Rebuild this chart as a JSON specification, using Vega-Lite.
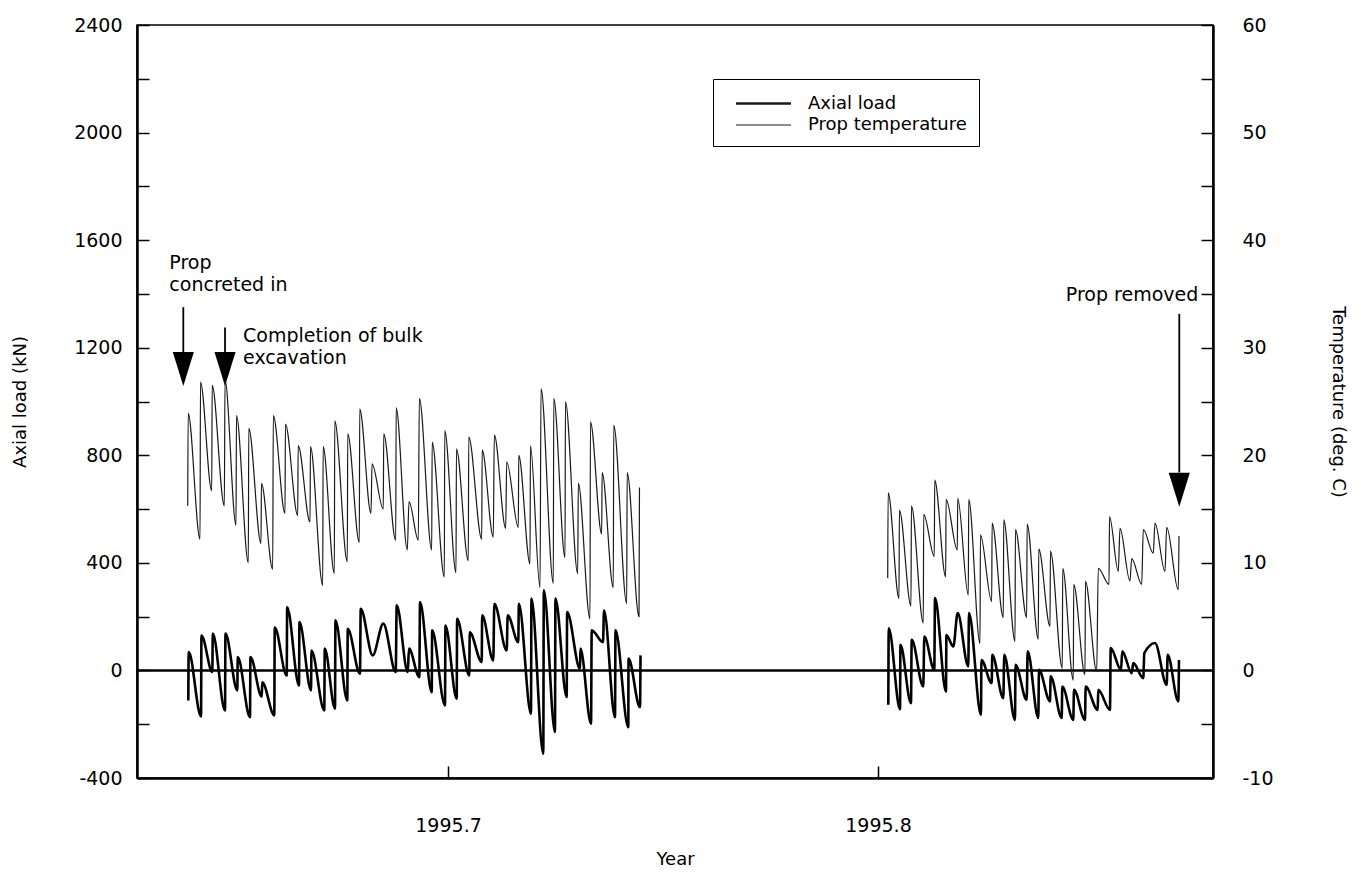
{
  "$schema": "https://vega.github.io/schema/vega-lite/v6.json",
  "width": 1076,
  "height": 753,
  "autosize": "none",
  "padding": {"left": 137, "top": 25, "right": 153, "bottom": 94},
  "background": "white",
  "config": {
    "font": "DejaVu Sans",
    "view": {"stroke": "black", "strokeWidth": 1.5},
    "axis": {
      "domainColor": "black", "domainWidth": 2.5,
      "tickColor": "black", "tickWidth": 1.5, "tickSize": -12,
      "labelColor": "black", "titleColor": "black",
      "labelFont": "DejaVu Sans", "titleFont": "DejaVu Sans",
      "labelFontSize": 19, "titleFontSize": 18, "titleFontWeight": "normal",
      "grid": false
    },
    "text": {"font": "DejaVu Sans"}
  },
  "datasets": {
    "readings": [
      {"year": 1995.63947, "series": "Prop temperature", "seg": 1, "value": 15.3},
      {"year": 1995.63957, "series": "Prop temperature", "seg": 1, "value": 23.9},
      {"year": 1995.64233, "series": "Prop temperature", "seg": 1, "value": 12.2},
      {"year": 1995.64243, "series": "Prop temperature", "seg": 1, "value": 26.8},
      {"year": 1995.64505, "series": "Prop temperature", "seg": 1, "value": 16.7},
      {"year": 1995.64515, "series": "Prop temperature", "seg": 1, "value": 26.5},
      {"year": 1995.64798, "series": "Prop temperature", "seg": 1, "value": 15.3},
      {"year": 1995.64814, "series": "Prop temperature", "seg": 1, "value": 27.0},
      {"year": 1995.65070, "series": "Prop temperature", "seg": 1, "value": 13.5},
      {"year": 1995.65080, "series": "Prop temperature", "seg": 1, "value": 23.7},
      {"year": 1995.65356, "series": "Prop temperature", "seg": 1, "value": 10.0},
      {"year": 1995.65366, "series": "Prop temperature", "seg": 1, "value": 22.5},
      {"year": 1995.65651, "series": "Prop temperature", "seg": 1, "value": 11.8},
      {"year": 1995.65661, "series": "Prop temperature", "seg": 1, "value": 17.4},
      {"year": 1995.65923, "series": "Prop temperature", "seg": 1, "value": 9.4},
      {"year": 1995.65937, "series": "Prop temperature", "seg": 1, "value": 23.7},
      {"year": 1995.66209, "series": "Prop temperature", "seg": 1, "value": 14.6},
      {"year": 1995.66219, "series": "Prop temperature", "seg": 1, "value": 22.9},
      {"year": 1995.66505, "series": "Prop temperature", "seg": 1, "value": 14.4},
      {"year": 1995.66515, "series": "Prop temperature", "seg": 1, "value": 20.9},
      {"year": 1995.66791, "series": "Prop temperature", "seg": 1, "value": 13.8},
      {"year": 1995.66801, "series": "Prop temperature", "seg": 1, "value": 20.8},
      {"year": 1995.67086, "series": "Prop temperature", "seg": 1, "value": 7.9},
      {"year": 1995.67096, "series": "Prop temperature", "seg": 1, "value": 20.8},
      {"year": 1995.67356, "series": "Prop temperature", "seg": 1, "value": 9.0},
      {"year": 1995.67366, "series": "Prop temperature", "seg": 1, "value": 23.2},
      {"year": 1995.67658, "series": "Prop temperature", "seg": 1, "value": 10.1},
      {"year": 1995.67668, "series": "Prop temperature", "seg": 1, "value": 22.0},
      {"year": 1995.67937, "series": "Prop temperature", "seg": 1, "value": 11.9},
      {"year": 1995.67947, "series": "Prop temperature", "seg": 1, "value": 24.3},
      {"year": 1995.68209, "series": "Prop temperature", "seg": 1, "value": 14.6},
      {"year": 1995.68233, "series": "Prop temperature", "seg": 1, "value": 19.2},
      {"year": 1995.68495, "series": "Prop temperature", "seg": 1, "value": 15.0},
      {"year": 1995.68505, "series": "Prop temperature", "seg": 1, "value": 22.0},
      {"year": 1995.68784, "series": "Prop temperature", "seg": 1, "value": 12.1},
      {"year": 1995.68794, "series": "Prop temperature", "seg": 1, "value": 24.4},
      {"year": 1995.69053, "series": "Prop temperature", "seg": 1, "value": 11.2},
      {"year": 1995.69093, "series": "Prop temperature", "seg": 1, "value": 15.7},
      {"year": 1995.69309, "series": "Prop temperature", "seg": 1, "value": 12.1},
      {"year": 1995.69333, "series": "Prop temperature", "seg": 1, "value": 25.3},
      {"year": 1995.69621, "series": "Prop temperature", "seg": 1, "value": 11.2},
      {"year": 1995.69631, "series": "Prop temperature", "seg": 1, "value": 21.2},
      {"year": 1995.69914, "series": "Prop temperature", "seg": 1, "value": 8.7},
      {"year": 1995.69924, "series": "Prop temperature", "seg": 1, "value": 22.3},
      {"year": 1995.70186, "series": "Prop temperature", "seg": 1, "value": 9.1},
      {"year": 1995.70196, "series": "Prop temperature", "seg": 1, "value": 20.6},
      {"year": 1995.70472, "series": "Prop temperature", "seg": 1, "value": 10.2},
      {"year": 1995.70482, "series": "Prop temperature", "seg": 1, "value": 21.7},
      {"year": 1995.70784, "series": "Prop temperature", "seg": 1, "value": 12.2},
      {"year": 1995.70794, "series": "Prop temperature", "seg": 1, "value": 20.5},
      {"year": 1995.71053, "series": "Prop temperature", "seg": 1, "value": 12.4},
      {"year": 1995.71077, "series": "Prop temperature", "seg": 1, "value": 21.9},
      {"year": 1995.71342, "series": "Prop temperature", "seg": 1, "value": 13.2},
      {"year": 1995.71365, "series": "Prop temperature", "seg": 1, "value": 19.4},
      {"year": 1995.71635, "series": "Prop temperature", "seg": 1, "value": 13.3},
      {"year": 1995.71645, "series": "Prop temperature", "seg": 1, "value": 20.0},
      {"year": 1995.71907, "series": "Prop temperature", "seg": 1, "value": 9.9},
      {"year": 1995.71917, "series": "Prop temperature", "seg": 1, "value": 20.9},
      {"year": 1995.72140, "series": "Prop temperature", "seg": 1, "value": 7.7},
      {"year": 1995.72163, "series": "Prop temperature", "seg": 1, "value": 26.2},
      {"year": 1995.72449, "series": "Prop temperature", "seg": 1, "value": 8.1},
      {"year": 1995.72459, "series": "Prop temperature", "seg": 1, "value": 25.3},
      {"year": 1995.72721, "series": "Prop temperature", "seg": 1, "value": 10.5},
      {"year": 1995.72731, "series": "Prop temperature", "seg": 1, "value": 25.0},
      {"year": 1995.73016, "series": "Prop temperature", "seg": 1, "value": 9.0},
      {"year": 1995.73030, "series": "Prop temperature", "seg": 1, "value": 17.4},
      {"year": 1995.73302, "series": "Prop temperature", "seg": 1, "value": 4.8},
      {"year": 1995.73312, "series": "Prop temperature", "seg": 1, "value": 23.1},
      {"year": 1995.73574, "series": "Prop temperature", "seg": 1, "value": 12.7},
      {"year": 1995.73584, "series": "Prop temperature", "seg": 1, "value": 18.4},
      {"year": 1995.73844, "series": "Prop temperature", "seg": 1, "value": 7.7},
      {"year": 1995.73854, "series": "Prop temperature", "seg": 1, "value": 22.8},
      {"year": 1995.74156, "series": "Prop temperature", "seg": 1, "value": 6.2},
      {"year": 1995.74166, "series": "Prop temperature", "seg": 1, "value": 18.4},
      {"year": 1995.74442, "series": "Prop temperature", "seg": 1, "value": 5.0},
      {"year": 1995.74453, "series": "Prop temperature", "seg": 1, "value": 17.0},
      {"year": 1995.80226, "series": "Prop temperature", "seg": 2, "value": 8.6},
      {"year": 1995.80236, "series": "Prop temperature", "seg": 2, "value": 16.5},
      {"year": 1995.80488, "series": "Prop temperature", "seg": 2, "value": 6.7},
      {"year": 1995.80498, "series": "Prop temperature", "seg": 2, "value": 14.9},
      {"year": 1995.80767, "series": "Prop temperature", "seg": 2, "value": 6.0},
      {"year": 1995.80777, "series": "Prop temperature", "seg": 2, "value": 15.3},
      {"year": 1995.81053, "series": "Prop temperature", "seg": 2, "value": 4.4},
      {"year": 1995.81063, "series": "Prop temperature", "seg": 2, "value": 14.5},
      {"year": 1995.81309, "series": "Prop temperature", "seg": 2, "value": 10.6},
      {"year": 1995.81319, "series": "Prop temperature", "seg": 2, "value": 17.7},
      {"year": 1995.81574, "series": "Prop temperature", "seg": 2, "value": 8.7},
      {"year": 1995.81584, "series": "Prop temperature", "seg": 2, "value": 15.9},
      {"year": 1995.81844, "series": "Prop temperature", "seg": 2, "value": 11.2},
      {"year": 1995.81854, "series": "Prop temperature", "seg": 2, "value": 16.0},
      {"year": 1995.82100, "series": "Prop temperature", "seg": 2, "value": 7.0},
      {"year": 1995.82110, "series": "Prop temperature", "seg": 2, "value": 15.9},
      {"year": 1995.82372, "series": "Prop temperature", "seg": 2, "value": 2.5},
      {"year": 1995.82382, "series": "Prop temperature", "seg": 2, "value": 12.6},
      {"year": 1995.82644, "series": "Prop temperature", "seg": 2, "value": 6.4},
      {"year": 1995.82654, "series": "Prop temperature", "seg": 2, "value": 13.7},
      {"year": 1995.82914, "series": "Prop temperature", "seg": 2, "value": 4.9},
      {"year": 1995.82924, "series": "Prop temperature", "seg": 2, "value": 14.0},
      {"year": 1995.83186, "series": "Prop temperature", "seg": 2, "value": 2.7},
      {"year": 1995.83196, "series": "Prop temperature", "seg": 2, "value": 13.1},
      {"year": 1995.83458, "series": "Prop temperature", "seg": 2, "value": 4.9},
      {"year": 1995.83468, "series": "Prop temperature", "seg": 2, "value": 13.6},
      {"year": 1995.83728, "series": "Prop temperature", "seg": 2, "value": 2.9},
      {"year": 1995.83738, "series": "Prop temperature", "seg": 2, "value": 11.3},
      {"year": 1995.84000, "series": "Prop temperature", "seg": 2, "value": 4.1},
      {"year": 1995.84010, "series": "Prop temperature", "seg": 2, "value": 11.1},
      {"year": 1995.84286, "series": "Prop temperature", "seg": 2, "value": 0.2},
      {"year": 1995.84296, "series": "Prop temperature", "seg": 2, "value": 9.5},
      {"year": 1995.84542, "series": "Prop temperature", "seg": 2, "value": -0.9},
      {"year": 1995.84552, "series": "Prop temperature", "seg": 2, "value": 8.0},
      {"year": 1995.84814, "series": "Prop temperature", "seg": 2, "value": -0.4},
      {"year": 1995.84824, "series": "Prop temperature", "seg": 2, "value": 8.3},
      {"year": 1995.85086, "series": "Prop temperature", "seg": 2, "value": -0.1},
      {"year": 1995.85123, "series": "Prop temperature", "seg": 2, "value": 9.5},
      {"year": 1995.85372, "series": "Prop temperature", "seg": 2, "value": 8.0},
      {"year": 1995.85384, "series": "Prop temperature", "seg": 2, "value": 14.3},
      {"year": 1995.85588, "series": "Prop temperature", "seg": 2, "value": 9.2},
      {"year": 1995.85628, "series": "Prop temperature", "seg": 2, "value": 13.2},
      {"year": 1995.85860, "series": "Prop temperature", "seg": 2, "value": 8.3},
      {"year": 1995.85900, "series": "Prop temperature", "seg": 2, "value": 10.4},
      {"year": 1995.86133, "series": "Prop temperature", "seg": 2, "value": 8.0},
      {"year": 1995.86170, "series": "Prop temperature", "seg": 2, "value": 13.1},
      {"year": 1995.86402, "series": "Prop temperature", "seg": 2, "value": 10.9},
      {"year": 1995.86442, "series": "Prop temperature", "seg": 2, "value": 13.7},
      {"year": 1995.86674, "series": "Prop temperature", "seg": 2, "value": 9.2},
      {"year": 1995.86714, "series": "Prop temperature", "seg": 2, "value": 13.3},
      {"year": 1995.86984, "series": "Prop temperature", "seg": 2, "value": 7.5},
      {"year": 1995.87000, "series": "Prop temperature", "seg": 2, "value": 12.5},
      {"year": 1995.63960, "series": "Axial load", "seg": 1, "value": -112},
      {"year": 1995.63970, "series": "Axial load", "seg": 1, "value": 68},
      {"year": 1995.64256, "series": "Axial load", "seg": 1, "value": -171},
      {"year": 1995.64266, "series": "Axial load", "seg": 1, "value": 130},
      {"year": 1995.64519, "series": "Axial load", "seg": 1, "value": -6},
      {"year": 1995.64529, "series": "Axial load", "seg": 1, "value": 137},
      {"year": 1995.64814, "series": "Axial load", "seg": 1, "value": -149},
      {"year": 1995.64824, "series": "Axial load", "seg": 1, "value": 137},
      {"year": 1995.65100, "series": "Axial load", "seg": 1, "value": -74},
      {"year": 1995.65110, "series": "Axial load", "seg": 1, "value": 50},
      {"year": 1995.65395, "series": "Axial load", "seg": 1, "value": -174},
      {"year": 1995.65405, "series": "Axial load", "seg": 1, "value": 50},
      {"year": 1995.65667, "series": "Axial load", "seg": 1, "value": -97},
      {"year": 1995.65681, "series": "Axial load", "seg": 1, "value": -44},
      {"year": 1995.65960, "series": "Axial load", "seg": 1, "value": -167},
      {"year": 1995.65970, "series": "Axial load", "seg": 1, "value": 159},
      {"year": 1995.66249, "series": "Axial load", "seg": 1, "value": -19},
      {"year": 1995.66259, "series": "Axial load", "seg": 1, "value": 235},
      {"year": 1995.66535, "series": "Axial load", "seg": 1, "value": -56},
      {"year": 1995.66545, "series": "Axial load", "seg": 1, "value": 180},
      {"year": 1995.66814, "series": "Axial load", "seg": 1, "value": -74},
      {"year": 1995.66824, "series": "Axial load", "seg": 1, "value": 74},
      {"year": 1995.67123, "series": "Axial load", "seg": 1, "value": -149},
      {"year": 1995.67133, "series": "Axial load", "seg": 1, "value": 81},
      {"year": 1995.67372, "series": "Axial load", "seg": 1, "value": -142},
      {"year": 1995.67382, "series": "Axial load", "seg": 1, "value": 186},
      {"year": 1995.67658, "series": "Axial load", "seg": 1, "value": -112},
      {"year": 1995.67668, "series": "Axial load", "seg": 1, "value": 155},
      {"year": 1995.67953, "series": "Axial load", "seg": 1, "value": -12},
      {"year": 1995.67970, "series": "Axial load", "seg": 1, "value": 229},
      {"year": 1995.68249, "series": "Axial load", "seg": 1, "value": 56},
      {"year": 1995.68495, "series": "Axial load", "seg": 1, "value": 174},
      {"year": 1995.68784, "series": "Axial load", "seg": 1, "value": -6},
      {"year": 1995.68807, "series": "Axial load", "seg": 1, "value": 242},
      {"year": 1995.69063, "series": "Axial load", "seg": 1, "value": -6},
      {"year": 1995.69093, "series": "Axial load", "seg": 1, "value": 81},
      {"year": 1995.69333, "series": "Axial load", "seg": 1, "value": -25},
      {"year": 1995.69349, "series": "Axial load", "seg": 1, "value": 254},
      {"year": 1995.69621, "series": "Axial load", "seg": 1, "value": -81},
      {"year": 1995.69631, "series": "Axial load", "seg": 1, "value": 149},
      {"year": 1995.69930, "series": "Axial load", "seg": 1, "value": -130},
      {"year": 1995.69940, "series": "Axial load", "seg": 1, "value": 167},
      {"year": 1995.70202, "series": "Axial load", "seg": 1, "value": -105},
      {"year": 1995.70212, "series": "Axial load", "seg": 1, "value": 192},
      {"year": 1995.70495, "series": "Axial load", "seg": 1, "value": -19},
      {"year": 1995.70505, "series": "Axial load", "seg": 1, "value": 142},
      {"year": 1995.70784, "series": "Axial load", "seg": 1, "value": 31},
      {"year": 1995.70794, "series": "Axial load", "seg": 1, "value": 205},
      {"year": 1995.71053, "series": "Axial load", "seg": 1, "value": 37},
      {"year": 1995.71077, "series": "Axial load", "seg": 1, "value": 248},
      {"year": 1995.71365, "series": "Axial load", "seg": 1, "value": 74},
      {"year": 1995.71388, "series": "Axial load", "seg": 1, "value": 205},
      {"year": 1995.71635, "series": "Axial load", "seg": 1, "value": 105},
      {"year": 1995.71647, "series": "Axial load", "seg": 1, "value": 248},
      {"year": 1995.71930, "series": "Axial load", "seg": 1, "value": -161},
      {"year": 1995.71940, "series": "Axial load", "seg": 1, "value": 267},
      {"year": 1995.72216, "series": "Axial load", "seg": 1, "value": -310},
      {"year": 1995.72228, "series": "Axial load", "seg": 1, "value": 298},
      {"year": 1995.72488, "series": "Axial load", "seg": 1, "value": -229},
      {"year": 1995.72498, "series": "Axial load", "seg": 1, "value": 267},
      {"year": 1995.72760, "series": "Axial load", "seg": 1, "value": -99},
      {"year": 1995.72770, "series": "Axial load", "seg": 1, "value": 217},
      {"year": 1995.73070, "series": "Axial load", "seg": 1, "value": 6},
      {"year": 1995.73080, "series": "Axial load", "seg": 1, "value": 81},
      {"year": 1995.73326, "series": "Axial load", "seg": 1, "value": -198},
      {"year": 1995.73342, "series": "Axial load", "seg": 1, "value": 149},
      {"year": 1995.73605, "series": "Axial load", "seg": 1, "value": 105},
      {"year": 1995.73628, "series": "Axial load", "seg": 1, "value": 223},
      {"year": 1995.73884, "series": "Axial load", "seg": 1, "value": -174},
      {"year": 1995.73895, "series": "Axial load", "seg": 1, "value": 149},
      {"year": 1995.74193, "series": "Axial load", "seg": 1, "value": -211},
      {"year": 1995.74198, "series": "Axial load", "seg": 1, "value": 44},
      {"year": 1995.74465, "series": "Axial load", "seg": 1, "value": -137},
      {"year": 1995.74477, "series": "Axial load", "seg": 1, "value": 56},
      {"year": 1995.80240, "series": "Axial load", "seg": 2, "value": -128},
      {"year": 1995.80250, "series": "Axial load", "seg": 2, "value": 157},
      {"year": 1995.80512, "series": "Axial load", "seg": 2, "value": -144},
      {"year": 1995.80522, "series": "Axial load", "seg": 2, "value": 95},
      {"year": 1995.80767, "series": "Axial load", "seg": 2, "value": -122},
      {"year": 1995.80784, "series": "Axial load", "seg": 2, "value": 114},
      {"year": 1995.81053, "series": "Axial load", "seg": 2, "value": -60},
      {"year": 1995.81077, "series": "Axial load", "seg": 2, "value": 126},
      {"year": 1995.81309, "series": "Axial load", "seg": 2, "value": 2},
      {"year": 1995.81326, "series": "Axial load", "seg": 2, "value": 269},
      {"year": 1995.81581, "series": "Axial load", "seg": 2, "value": -78},
      {"year": 1995.81591, "series": "Axial load", "seg": 2, "value": 132},
      {"year": 1995.81751, "series": "Axial load", "seg": 2, "value": 89},
      {"year": 1995.81853, "series": "Axial load", "seg": 2, "value": 213},
      {"year": 1995.82100, "series": "Axial load", "seg": 2, "value": 15},
      {"year": 1995.82116, "series": "Axial load", "seg": 2, "value": 213},
      {"year": 1995.82395, "series": "Axial load", "seg": 2, "value": -165},
      {"year": 1995.82405, "series": "Axial load", "seg": 2, "value": 39},
      {"year": 1995.82644, "series": "Axial load", "seg": 2, "value": -47},
      {"year": 1995.82658, "series": "Axial load", "seg": 2, "value": 58},
      {"year": 1995.82914, "series": "Axial load", "seg": 2, "value": -103},
      {"year": 1995.82937, "series": "Axial load", "seg": 2, "value": 58},
      {"year": 1995.83186, "series": "Axial load", "seg": 2, "value": -184},
      {"year": 1995.83198, "series": "Axial load", "seg": 2, "value": 21},
      {"year": 1995.83458, "series": "Axial load", "seg": 2, "value": -109},
      {"year": 1995.83481, "series": "Axial load", "seg": 2, "value": 71},
      {"year": 1995.83728, "series": "Axial load", "seg": 2, "value": -177},
      {"year": 1995.83744, "series": "Axial load", "seg": 2, "value": 2},
      {"year": 1995.84000, "series": "Axial load", "seg": 2, "value": -115},
      {"year": 1995.84016, "series": "Axial load", "seg": 2, "value": -22},
      {"year": 1995.84272, "series": "Axial load", "seg": 2, "value": -177},
      {"year": 1995.84286, "series": "Axial load", "seg": 2, "value": -60},
      {"year": 1995.84542, "series": "Axial load", "seg": 2, "value": -184},
      {"year": 1995.84558, "series": "Axial load", "seg": 2, "value": -72},
      {"year": 1995.84814, "series": "Axial load", "seg": 2, "value": -184},
      {"year": 1995.84830, "series": "Axial load", "seg": 2, "value": -60},
      {"year": 1995.85109, "series": "Axial load", "seg": 2, "value": -147},
      {"year": 1995.85123, "series": "Axial load", "seg": 2, "value": -72},
      {"year": 1995.85395, "series": "Axial load", "seg": 2, "value": -147},
      {"year": 1995.85412, "series": "Axial load", "seg": 2, "value": 83},
      {"year": 1995.85651, "series": "Axial load", "seg": 2, "value": 2},
      {"year": 1995.85681, "series": "Axial load", "seg": 2, "value": 71},
      {"year": 1995.85900, "series": "Axial load", "seg": 2, "value": -10},
      {"year": 1995.85937, "series": "Axial load", "seg": 2, "value": 27},
      {"year": 1995.86170, "series": "Axial load", "seg": 2, "value": -29},
      {"year": 1995.86193, "series": "Axial load", "seg": 2, "value": 64},
      {"year": 1995.86442, "series": "Axial load", "seg": 2, "value": 102},
      {"year": 1995.86714, "series": "Axial load", "seg": 2, "value": -54},
      {"year": 1995.86737, "series": "Axial load", "seg": 2, "value": 58},
      {"year": 1995.86984, "series": "Axial load", "seg": 2, "value": -115},
      {"year": 1995.87000, "series": "Axial load", "seg": 2, "value": 39}
    ],
    "notes": [
      {"year": 1995.63519, "value": 1494, "label": "Prop", "side": "left"},
      {"year": 1995.63519, "value": 1410, "label": "concreted in", "side": "left"},
      {"year": 1995.65233, "value": 1221, "label": "Completion of bulk", "side": "left"},
      {"year": 1995.65233, "value": 1138, "label": "excavation", "side": "left"},
      {"year": 1995.87449, "value": 1373, "label": "Prop removed", "side": "right"}
    ],
    "arrows": [
      {"year": 1995.63844, "value": 1351, "end": 1182},
      {"year": 1995.64814, "value": 1275, "end": 1182},
      {"year": 1995.87007, "value": 1326, "end": 736}
    ],
    "heads": [
      {"year": 1995.63844, "value": 1121},
      {"year": 1995.64814, "value": 1121},
      {"year": 1995.87007, "value": 672}
    ]
  },
  "layer": [
    {
      "encoding": {
        "y": {
          "field": "value", "type": "quantitative",
          "scale": {"domain": [-400, 2400], "nice": false, "zero": false},
          "axis": {
            "orient": "left",
            "values": [-400, -200, 0, 200, 400, 600, 800, 1000, 1200, 1400, 1600, 1800, 2000, 2200, 2400],
            "labelExpr": "datum.value % 400 === 0 ? toString(datum.value) : ''",
            "title": "Axial load (kN)",
            "labelPadding": 27,
            "titlePadding": 44
          }
        }
      },
      "layer": [
        {
          "data": {"values": [{"value": 0}]},
          "mark": {"type": "rule", "color": "black", "strokeWidth": 2.5}
        },
        {
          "data": {"name": "readings"},
          "transform": [{"filter": "datum.series === 'Axial load'"}],
          "mark": {"type": "line", "color": "black", "interpolate": "monotone", "strokeJoin": "round"},
          "encoding": {
            "x": {
              "field": "year", "type": "quantitative",
              "scale": {"domain": [1995.62767, 1995.87791], "nice": false, "zero": false},
              "axis": {"values": [1995.7, 1995.8], "format": ".1f", "title": "Year", "labelPadding": 50, "titlePadding": 15}
            },
            "detail": {"field": "seg", "type": "nominal"},
            "strokeWidth": {
              "field": "series", "type": "nominal",
              "scale": {"domain": ["Axial load", "Prop temperature"], "range": [2.6, 1.2]},
              "legend": {
                "title": null, "orient": "none", "legendX": 576, "legendY": 54,
                "direction": "vertical", "symbolType": "M-2.5,0H2.5", "symbolSize": 484,
                "symbolStrokeColor": "black", "symbolOffset": 26,
                "labelFont": "DejaVu Sans", "labelFontSize": 18, "labelColor": "black",
                "labelOffset": 32, "padding": 12, "rowPadding": 0,
                "strokeColor": "black", "fillColor": "white"
              }
            }
          }
        },
        {
          "data": {"name": "arrows"},
          "mark": {"type": "rule", "color": "black", "strokeWidth": 1.8},
          "encoding": {
            "x": {"field": "year", "type": "quantitative", "scale": {"domain": [1995.62767, 1995.87791], "nice": false, "zero": false}},
            "y2": {"field": "end"}
          }
        },
        {
          "data": {"name": "heads"},
          "mark": {"type": "point", "shape": "M-0.62,-1L0.62,-1L0,1Z", "filled": true, "color": "black", "opacity": 1, "size": 1156, "strokeWidth": 0},
          "encoding": {
            "x": {"field": "year", "type": "quantitative", "scale": {"domain": [1995.62767, 1995.87791], "nice": false, "zero": false}}
          }
        },
        {
          "data": {"name": "notes"},
          "transform": [{"filter": "datum.side === 'left'"}],
          "mark": {"type": "text", "align": "left", "baseline": "alphabetic", "fontSize": 19, "color": "black"},
          "encoding": {
            "x": {"field": "year", "type": "quantitative", "scale": {"domain": [1995.62767, 1995.87791], "nice": false, "zero": false}},
            "text": {"field": "label"}
          }
        },
        {
          "data": {"name": "notes"},
          "transform": [{"filter": "datum.side === 'right'"}],
          "mark": {"type": "text", "align": "right", "baseline": "alphabetic", "fontSize": 19, "color": "black"},
          "encoding": {
            "x": {"field": "year", "type": "quantitative", "scale": {"domain": [1995.62767, 1995.87791], "nice": false, "zero": false}},
            "text": {"field": "label"}
          }
        }
      ]
    },
    {
      "data": {"name": "readings"},
      "transform": [{"filter": "datum.series === 'Prop temperature'"}],
      "mark": {"type": "line", "color": "#1a1a1a", "interpolate": "monotone", "strokeJoin": "round"},
      "encoding": {
        "x": {"field": "year", "type": "quantitative", "scale": {"domain": [1995.62767, 1995.87791], "nice": false, "zero": false}},
        "y": {
          "field": "value", "type": "quantitative",
          "scale": {"domain": [-10, 60], "nice": false, "zero": false},
          "axis": {
            "orient": "right",
            "values": [-10, -5, 0, 5, 10, 15, 20, 25, 30, 35, 40, 45, 50, 55, 60],
            "labelExpr": "datum.value % 10 === 0 ? toString(datum.value) : ''",
            "title": "Temperature (deg. C)",
            "labelAlign": "left",
            "labelPadding": 41,
            "titlePadding": 55
          }
        },
        "detail": {"field": "seg", "type": "nominal"},
        "strokeWidth": {
          "field": "series", "type": "nominal",
          "scale": {"domain": ["Axial load", "Prop temperature"], "range": [2.6, 1.2]}
        }
      }
    }
  ],
  "resolve": {"scale": {"y": "independent"}}
}
